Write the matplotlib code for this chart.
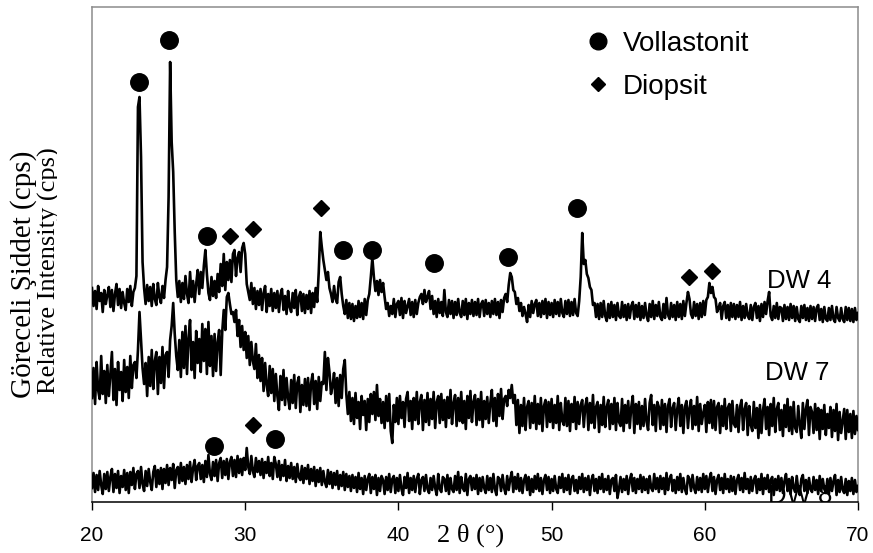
import numpy as np
import matplotlib
matplotlib.use("Agg")
import matplotlib.pyplot as plt
from matplotlib.lines import Line2D
from matplotlib.transforms import Bbox, TransformedBbox

plt.rcParams['font.family'] = ['Liberation Sans', 'DejaVu Sans']

# ---------------- data (relative intensity, stacked traces) ----------------
two_theta_start = 20.0
two_theta_step = 0.1

dw4 = [
    214, 196, 211, 193, 216, 201, 209, 190, 212, 198,
    207, 215, 195, 212, 191, 208, 218, 197, 213, 194,
    210, 199, 192, 213, 200, 216, 196, 210, 214, 226,
    395, 405, 345, 240, 214, 198, 217, 201, 215, 196,
    218, 203, 197, 219, 205, 199, 216, 204, 222, 235,
    305, 440, 360, 330, 270, 222, 205, 221, 200, 219,
    203, 226, 208, 199, 230, 205, 221, 200, 218, 232,
    208, 230, 214, 236, 252, 228, 209, 202, 225, 206,
    221, 204, 228, 210, 238, 216, 248, 212, 240, 222,
    242, 220, 248, 252, 226, 244, 250, 230, 254, 259,
    248, 218, 210, 202, 219, 198, 214, 193, 211, 197,
    213, 192, 209, 216, 190, 208, 196, 213, 191, 209,
    194, 211, 190, 207, 213, 192, 206, 188, 211, 195,
    190, 209, 194, 212, 187, 205, 210, 191, 208, 189,
    207, 193, 211, 189, 209, 195, 214, 200, 230, 270,
    255, 242, 232, 222, 230, 214, 208, 200, 216, 203,
    199, 220, 225, 208, 196, 188, 202, 184, 199, 183,
    198, 181, 196, 184, 201, 185, 199, 183, 203, 187,
    202, 208, 225, 244, 225, 211, 221, 207, 222, 210,
    219, 205, 193, 199, 186, 196, 188, 203, 185, 198,
    201, 187, 204, 184, 201, 189, 196, 203, 187, 200,
    185, 202, 188, 199, 205, 208, 198, 212, 200, 205,
    211, 193, 206, 188, 201, 185, 203, 189, 200, 186,
    212, 190, 185, 202, 188, 201, 184, 200, 187, 203,
    189, 185, 201, 187, 203, 183, 199, 188, 202, 186,
    200, 187, 203, 185, 198, 201, 186, 202, 188, 199,
    185, 201, 188, 203, 187, 200, 184, 202, 190, 204,
    208, 200, 217, 229, 225, 212, 210, 198, 204, 191,
    199, 186, 195, 188, 180, 197, 185, 201, 189, 198,
    202, 186, 199, 185, 201, 188, 203, 184, 200, 187,
    199, 185, 202, 188, 200, 186, 203, 189, 185, 201,
    188, 202, 186, 200, 187, 203, 189, 186, 201, 225,
    269, 238, 242, 228, 224, 215, 212, 197, 199, 185,
    198, 183, 199, 185, 201, 186, 181, 198, 184, 200,
    185, 197, 182, 199, 186, 184, 200, 185, 197, 182,
    198, 184, 196, 200, 183, 197, 185, 199, 182, 196,
    184, 199, 186, 181, 198, 185, 201, 183, 197, 186,
    200, 185, 182, 198, 184, 204, 187, 183, 199, 185,
    197, 182, 200, 185, 198, 183, 201, 186, 199, 210,
    203, 188, 184, 200, 186, 198, 183, 199, 185, 201,
    187, 202, 205, 219, 209, 215, 205, 203, 190, 194,
    199, 183, 196, 200, 184, 197, 182, 199, 185, 198,
    183, 197, 185, 200, 182, 196, 184, 198, 186, 183,
    197, 182, 195, 199, 184, 196, 181, 198, 185, 200,
    188, 201, 210, 186, 182, 196, 184, 199, 183, 195,
    194, 181, 197, 183, 195, 182, 198, 184, 196, 181,
    195, 183, 180, 196, 184, 197, 182, 194, 181, 196,
    183, 195, 181, 194, 197, 182, 193, 180, 195, 183,
    181, 194, 182, 196, 183, 180, 195, 184, 181, 194,
    183, 180, 195, 182, 194, 181, 193, 180, 194, 182,
    189,
]

dw7 = [
    104, 134, 98, 140, 112, 103, 146, 108, 131, 99,
    137, 106, 128, 150, 102, 133, 97, 140, 112, 130,
    101, 142, 110, 135, 104, 146, 114, 137, 140, 124,
    152, 190, 162, 134, 118, 139, 106, 145, 116, 152,
    113, 141, 150, 108, 145, 119, 155, 114, 147, 150,
    125, 162, 176, 199, 168, 146, 132, 162, 125, 170,
    134, 176, 128, 164, 182, 132, 160, 124, 171, 139,
    163, 130, 178, 141, 173, 128, 180, 136, 166, 126,
    168, 131, 160, 172, 127, 170, 192, 172, 205, 209,
    198, 188, 190, 180, 192, 166, 182, 155, 176, 152,
    170, 144, 166, 137, 160, 141, 133, 158, 124, 147,
    121, 144, 111, 139, 117, 106, 136, 109, 133, 101,
    128, 106, 92, 126, 102, 132, 97, 124, 104, 93,
    122, 99, 127, 94, 119, 125, 90, 117, 97, 123,
    96, 124, 92, 119, 128, 98, 121, 93, 125, 101,
    120, 118, 150, 112, 144, 130, 108, 116, 129, 99,
    124, 96, 127, 104, 133, 142, 108, 88, 110, 81,
    104, 78, 109, 84, 100, 73, 106, 87, 101, 72,
    103, 80, 108, 88, 110, 82, 117, 86, 103, 79,
    100, 74, 106, 81, 108, 71, 59, 97, 80, 104,
    78, 106, 84, 100, 75, 103, 110, 81, 101, 73,
    104, 82, 110, 78, 100, 107, 72, 102, 80, 109,
    77, 103, 83, 110, 74, 100, 106, 79, 108, 82,
    102, 75, 105, 84, 112, 78, 99, 107, 76, 104,
    81, 110, 79, 101, 73, 106, 84, 111, 80, 100,
    107, 77, 103, 82, 110, 75, 101, 83, 105, 79,
    99, 112, 81, 104, 76, 108, 86, 113, 83, 103,
    106, 96, 112, 104, 117, 99, 107, 77, 102, 69,
    97, 76, 104, 72, 95, 101, 74, 99, 79, 106,
    73, 98, 78, 104, 71, 96, 102, 75, 100, 80,
    103, 74, 97, 79, 106, 72, 99, 81, 77, 104,
    76, 101, 71, 98, 80, 105, 73, 100, 78, 97,
    102, 75, 96, 104, 72, 99, 79, 107, 74, 95,
    100, 70, 97, 77, 105, 75, 95, 102, 73, 98,
    78, 104, 72, 99, 80, 76, 103, 71, 97, 79,
    101, 74, 95, 106, 69, 98, 78, 100, 73, 96,
    76, 103, 80, 72, 99, 107, 77, 97, 71, 100,
    95, 73, 102, 77, 98, 70, 96, 103, 75, 94,
    99, 72, 93, 104, 76, 97, 69, 95, 101, 74,
    94, 102, 73, 96, 77, 105, 71, 98, 78, 89,
    97, 70, 100, 79, 102, 74, 101, 72, 95, 99,
    69, 96, 76, 103, 73, 94, 98, 71, 101, 78,
    75, 97, 70, 95, 102, 72, 93, 99, 67, 96,
    77, 71, 100, 74, 94, 64, 97, 69, 92, 103,
    73, 95, 67, 98, 76, 104, 70, 93, 99, 72,
    92, 66, 97, 75, 103, 71, 95, 68, 100, 74,
    70, 96, 77, 64, 99, 73, 93, 102, 67, 95,
    90, 69, 98, 72, 94, 63, 92, 73, 97, 67,
    88, 74, 95, 65, 92, 71, 98, 62, 90, 69,
    81, 93, 63, 92, 70, 88, 64, 91, 68, 86,
    72,
]

dw8 = [
    14, 29, 10, 27, 12, 31, 17, 8, 28, 13,
    30, 11, 25, 33, 10, 28, 14, 31, 9, 26,
    15, 32, 12, 29, 9, 30, 17, 34, 13, 28,
    31, 14, 35, 18, 11, 31, 16, 33, 20, 12,
    30, 36, 15, 32, 18, 34, 13, 33, 19, 37,
    17, 34, 22, 38, 14, 32, 35, 19, 39, 21,
    35, 18, 37, 23, 40, 20, 34, 42, 22, 36,
    39, 23, 37, 20, 41, 25, 47, 28, 22, 40,
    26, 42, 21, 39, 44, 24, 41, 27, 43, 23,
    40, 45, 26, 42, 25, 46, 29, 43, 27, 44,
    32, 54, 35, 28, 46, 31, 25, 44, 30, 41,
    27, 43, 24, 40, 29, 45, 26, 39, 23, 45,
    38, 25, 41, 22, 37, 26, 42, 21, 36, 24,
    39, 23, 35, 20, 38, 25, 22, 36, 19, 34,
    23, 37, 18, 33, 21, 35, 16, 32, 20, 34,
    17, 31, 20, 15, 32, 18, 30, 14, 29, 17,
    31, 13, 27, 16, 30, 12, 28, 15, 26, 11,
    27, 14, 25, 10, 29, 13, 24, 8, 26, 12,
    23, 28, 9, 25, 13, 27, 7, 24, 11, 26,
    22, 8, 25, 12, 28, 10, 23, 26, 9, 24,
    11, 27, 13, 7, 25, 14, 29, 9, 24, 12,
    26, 10, 23, 28, 8, 22, 25, 11, 27, 13,
    9, 24, 12, 26, 14, 7, 28, 13, 10, 25,
    23, 11, 27, 8, 24, 13, 10, 26, 12, 30,
    9, 25, 14, 11, 28, 7, 23, 26, 12, 24,
    13, 27, 8, 24, 11, 25, 14, 9, 26, 12,
    24, 10, 28, 13, 7, 25, 23, 11, 27, 14,
    8, 26, 12, 23, 30, 10, 25, 13, 28, 11,
    24, 9, 22, 27, 12, 25, 7, 23, 10, 26,
    13, 28, 11, 24, 8, 22, 27, 12, 25, 9,
    23, 11, 26, 13, 9, 25, 14, 28, 10, 24,
    12, 27, 8, 23, 26, 11, 22, 9, 25, 13,
    28, 10, 24, 12, 26, 7, 22, 27, 11, 23,
    9, 25, 13, 28, 10, 23, 12, 26, 8, 22,
    24, 11, 27, 4, 13, 25, 10, 23, 12, 26,
    8, 22, 28, 11, 24, 9, 23, 13, 27, 10,
    25, 12, 23, 9, 26, 14, 11, 28, 13, 24,
    10, 26, 13, 24, 8, 29, 12, 23, 27, 11,
    22, 9, 25, 12, 28, 10, 24, 13, 8, 26,
    23, 11, 27, 14, 9, 25, 12, 24, 10, 28,
    13, 26, 10, 23, 29, 11, 25, 8, 22, 27,
    12, 24, 9, 28, 13, 23, 10, 26, 11, 25,
    8, 22, 27, 12, 24, 10, 29, 13, 23, 9,
    25, 11, 22, 26, 9, 23, 12, 28, 8, 24,
    13, 27, 10, 22, 25, 7, 23, 12, 26, 11,
    24, 9, 21, 28, 11, 23, 8, 25, 14, 10,
    26, 12, 7, 23, 27, 11, 22, 9, 24, 13,
    10, 25, 12, 22, 8, 26, 11, 23, 13, 9,
    23, 8, 24, 11, 21, 27, 7, 22, 10, 25,
    12, 9, 23, 7, 21, 11, 24, 8, 22, 10,
    16,
]

# phase markers (2θ position, marker height)
vollastonit_x = [23.09, 25.05, 27.53, 36.40, 38.30, 42.32, 47.17, 51.64, 27.98, 31.96]
vollastonit_y = [420, 462, 266, 252, 252, 239, 245, 294, 56, 63]
diopsit_x = [29.01, 30.49, 34.93, 58.99, 60.45, 30.49]
diopsit_y = [266, 273, 294, 225, 231, 77]

sample_labels = ['DW 4', 'DW 7', 'DW 8']
sample_label_x = [64.06, 63.93, 64.13]
sample_label_y = [214, 122, -1]

x_ticks = [20, 30, 40, 50, 60, 70]

# ---------------- figure ----------------
W, H = 873, 553
fig = plt.figure(figsize=(W / 100, H / 100), dpi=100)
fig.patch.set_facecolor('white')
L, R, T, B = 92, 858, 7, 502
ax = fig.add_axes([L / W, 1 - B / H, (R - L) / W, (B - T) / H])

n = len(dw4)
two_theta = two_theta_start + two_theta_step * np.arange(n)

for trace in (dw4, dw7, dw8):
    ax.plot(two_theta[:len(trace)], trace, color='black', lw=1.9, zorder=3)

ax.plot(vollastonit_x, vollastonit_y, ls='none', marker='o', ms=12.6,
        color='black', zorder=4)
ax.plot(diopsit_x, diopsit_y, ls='none', marker='D', ms=8.6,
        color='black', zorder=4)

for lab, lx, ly in zip(sample_labels, sample_label_x, sample_label_y):
    ax.text(lx, ly, lab, fontsize=18.5, ha='left', va='baseline',
            color='black', zorder=1, clip_on=True)

ax.set_xlim(20, 70)
ax.set_ylim(0, 495)
ax.set_xticks(x_ticks)
ax.set_xticklabels([str(t) for t in x_ticks], fontsize=15)
ax.set_yticks([])
ax.tick_params(axis='x', direction='out', length=5.5, width=1, pad=12,
               colors='black')
for side in ('left', 'top', 'right'):
    ax.spines[side].set_color('#8c8c8c')
    ax.spines[side].set_linewidth(1.1)
ax.spines['bottom'].set_color('black')
ax.spines['bottom'].set_linewidth(1.1)

handles = [Line2D([], [], ls='none', marker='o', ms=12, color='black'),
           Line2D([], [], ls='none', marker='D', ms=7.6, color='black')]
ax.legend(handles, ['Vollastonit', 'Diopsit'], loc='upper left',
          bbox_to_anchor=((587 - L) / (R - L), (B - 31) / (B - T)),
          frameon=False, fontsize=20, handlelength=0.8, handletextpad=0.5,
          borderpad=0, borderaxespad=0, labelspacing=0.6)

# axis titles
fig.text(471 / W, 1 - 535 / H, '2 θ (°)', fontsize=19, ha='center',
         va='center', family=['Liberation Serif', 'DejaVu Serif'])
fig.text(31 / W, 1 - 274 / H, 'Göreceli Şiddet (cps)', fontsize=21,
         rotation=90, rotation_mode='anchor', ha='center', va='baseline',
         family=['Liberation Serif', 'DejaVu Serif'])
t2 = fig.text(56 / W, 1 - 271 / H, 'Relative Intensity (cps)', fontsize=19,
              rotation=90, rotation_mode='anchor', ha='center', va='baseline',
              family=['Liberation Serif', 'DejaVu Serif'])
t2.set_clip_box(TransformedBbox(Bbox([[0, 0], [57 / W, 1]]), fig.transFigure))
t2.set_clip_on(True)

fig.savefig('out.png', dpi=100, facecolor='white')
